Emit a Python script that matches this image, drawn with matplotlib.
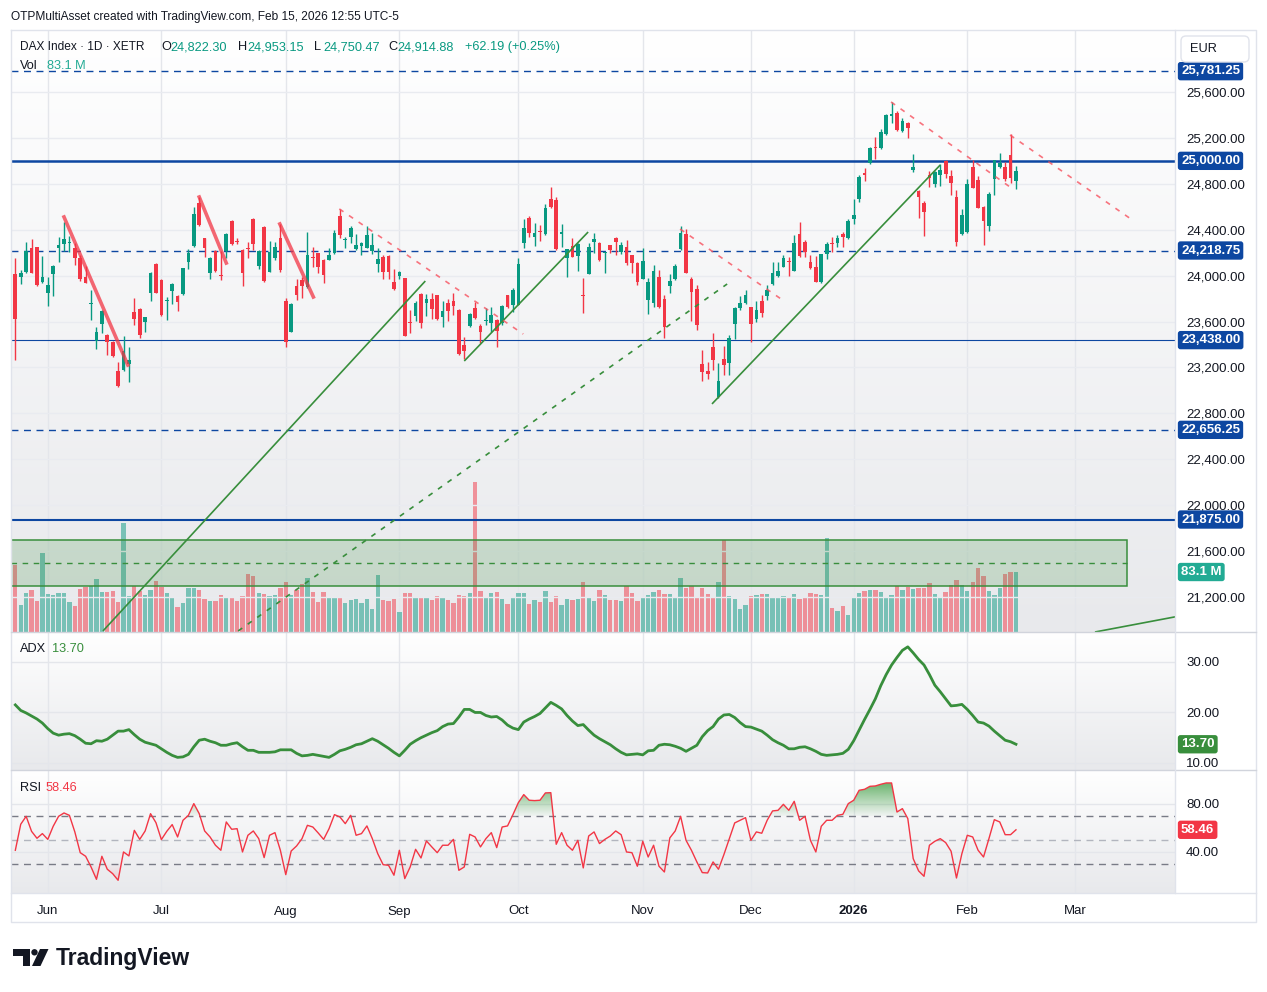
import numpy as np
import pandas as pd
import matplotlib
matplotlib.use("Agg")
import matplotlib.pyplot as plt
import matplotlib.transforms as mtransforms
from matplotlib.colors import LinearSegmentedColormap, to_rgba
from matplotlib.patches import Rectangle, Polygon, Circle, FancyBboxPatch
from matplotlib.path import Path
from matplotlib.ticker import FuncFormatter

plt.rcParams['font.family'] = ['Liberation Sans', 'DejaVu Sans']

W, H = 1267, 992

# XETR sessions (holidays removed), last bar = Feb 13 2026
holidays = ['2025-12-24', '2025-12-25', '2025-12-26', '2025-12-31', '2026-01-01']
sessions = pd.bdate_range('2025-05-23', '2026-03-31')
sessions = sessions[~sessions.isin(pd.to_datetime(holidays))]

opens = [24014, 23985, 24035, 24244, 24247, 23947, 23852, 24014, 24244, 24273,
         24287, 24238, 24151, 23985, 23753, 23431, 23576, 23483, 23425, 23169,
         23178, 23230, 23683, 23709, 23599, 23852, 24101, 23962, 23776, 23869,
         23823, 23837, 24122, 24258, 24630, 24325, 24026, 24215, 24005, 24215,
         24476, 24302, 24223, 24241, 24493, 24084, 24427, 24034, 24157, 24325,
         23779, 23512, 23910, 23962, 23898, 24156, 24194, 24136, 24136, 24194,
         24522, 24311, 24340, 24232, 24258, 24244, 24218, 24099, 24165, 24171,
         23948, 23997, 23977, 23593, 23651, 23840, 23759, 23797, 23831, 23643,
         23759, 23782, 23701, 23396, 23564, 23721, 23564, 23602, 23590, 23613,
         23584, 23831, 23744, 23744, 24281, 24499, 24339, 24386, 24363, 24667,
         24659, 24360, 24156, 24258, 24174, 23825, 24014, 24296, 24287, 24197,
         24267, 24331, 24209, 24252, 24180, 24113, 23971, 23788, 23759, 23991,
         23796, 23910, 23971, 24232, 24363, 23971, 23883, 23230, 23169, 23381,
         22940, 23274, 23242, 23576, 23721, 23759, 23724, 23622, 23779, 23825,
         23925, 23997, 24078, 24125, 24044, 24363, 24296, 24122, 24073, 23942,
         24186, 24285, 24288, 24360, 24331, 24491, 24668, 24894, 24979, 25121,
         25109, 25234, 25391, 25414, 25263, 25333, 24921, 24738, 24630, 24877,
         24799, 24877, 25002, 24868, 24688, 24363, 24378, 24944, 24833, 24601,
         24436, 24842, 24950, 24950, 25051, 24822.30]
highs = [24151, 24049, 24296, 24316, 24252, 24171, 23985, 24093, 24340, 24470,
         24345, 24281, 24180, 24084, 23875, 23555, 23701, 23490, 23430, 23245,
         23477, 23375, 23805, 23715, 23642, 24035, 24113, 23968, 23811, 23933,
         23828, 24068, 24229, 24601, 24688, 24330, 24165, 24220, 24215, 24368,
         24485, 24331, 24229, 24296, 24499, 24220, 24432, 24302, 24296, 24447,
         23802, 23764, 23971, 23991, 24383, 24252, 24197, 24142, 24238, 24398,
         24578, 24334, 24432, 24360, 24296, 24432, 24374, 24238, 24180, 24180,
         24055, 24043, 23983, 23701, 23782, 23852, 23840, 23846, 23835, 23782,
         23793, 23852, 23706, 23468, 23677, 23773, 23579, 23721, 23730, 23619,
         23740, 23835, 23889, 24151, 24490, 24519, 24456, 24441, 24624, 24769,
         24688, 24447, 24232, 24325, 24287, 23982, 24287, 24374, 24290, 24209,
         24270, 24334, 24296, 24310, 24183, 24116, 24238, 23977, 24093, 24049,
         23831, 24014, 24101, 24432, 24403, 23985, 23918, 23352, 23250, 23497,
         23242, 23387, 23483, 23724, 23823, 23875, 23730, 23782, 23831, 23918,
         24116, 24122, 24180, 24166, 24354, 24470, 24311, 24180, 24174, 24192,
         24296, 24340, 24354, 24383, 24494, 24665, 24877, 24935, 25118, 25205,
         25275, 25408, 25510, 25435, 25371, 25342, 25060, 24746, 24651, 24912,
         24912, 24970, 25008, 24921, 24746, 24581, 24842, 25008, 24868, 24605,
         24726, 25010, 25066, 24993, 25231, 24953.15]
lows = [23265, 23927, 24020, 24020, 23910, 23940, 23735, 23823, 24122, 24217,
        24209, 24093, 23956, 23933, 23614, 23358, 23503, 23309, 23295, 23030,
        23170, 23076, 23570, 23460, 23512, 23782, 23845, 23650, 23614, 23753,
        23695, 23832, 24058, 24247, 24436, 24165, 23968, 24035, 23962, 24157,
        24267, 24276, 23910, 24151, 24223, 24055, 23942, 24030, 24136, 24034,
        23375, 23505, 23788, 23802, 23895, 24078, 24026, 23939, 24132, 24188,
        24325, 24244, 24282, 24223, 24180, 24240, 24186, 24034, 23971, 23971,
        23875, 23968, 23470, 23503, 23608, 23541, 23651, 23619, 23613, 23555,
        23608, 23657, 23310, 23274, 23555, 23619, 23416, 23570, 23512, 23381,
        23570, 23715, 23686, 23740, 24244, 24339, 24258, 24305, 24354, 24592,
        24223, 24252, 23985, 24160, 24043, 23677, 24010, 24200, 24130, 24026,
        24194, 24180, 24188, 24093, 24026, 23918, 23968, 23666, 23730, 23720,
        23454, 23852, 23962, 24223, 24020, 23608, 23526, 23085, 23099, 23178,
        22935, 23134, 23134, 23445, 23700, 23755, 23425, 23599, 23642, 23788,
        23919, 23991, 24075, 23997, 24040, 24166, 24166, 24058, 23942, 23933,
        24145, 24209, 24247, 24253, 24319, 24447, 24639, 24825, 24973, 25016,
        25105, 25226, 25327, 25260, 25255, 25196, 24900, 24505, 24349, 24775,
        24775, 24784, 24848, 24703, 24261, 24354, 24375, 24762, 24588, 24267,
        24389, 24703, 24941, 24825, 24804, 24750.47]
closes = [23619, 24026, 24215, 24026, 23918, 23985, 23918, 24084, 24267, 24316,
          24296, 24151, 23968, 23939, 23764, 23506, 23695, 23425, 23303, 23039,
          23343, 23265, 23625, 23483, 23637, 24020, 23852, 23657, 23782, 23924,
          23773, 24064, 24194, 24537, 24441, 24244, 24157, 24040, 23999, 24363,
          24276, 24296, 24026, 24235, 24276, 24215, 23956, 24209, 24252, 24049,
          23419, 23753, 23831, 23910, 24180, 24151, 24072, 24006, 24180, 24374,
          24354, 24319, 24412, 24267, 24282, 24354, 24267, 24145, 24034, 24029,
          23884, 24034, 23477, 23587, 23759, 23584, 23797, 23707, 23619, 23692,
          23692, 23738, 23314, 23346, 23663, 23628, 23512, 23608, 23657, 23521,
          23736, 23730, 23875, 24101, 24412, 24368, 24374, 24377, 24586, 24601,
          24229, 24383, 24229, 24165, 24273, 23820, 24252, 24319, 24136, 24203,
          24223, 24296, 24267, 24113, 24107, 23947, 24130, 23947, 24043, 23724,
          23555, 23953, 24084, 24374, 24026, 23860, 23570, 23163, 23143, 23265,
          23082, 23221, 23454, 23715, 23764, 23831, 23576, 23700, 23677, 23875,
          24026, 24041, 24151, 24119, 24288, 24171, 24209, 24064, 23948, 24189,
          24273, 24279, 24325, 24340, 24479, 24528, 24863, 24877, 25115, 25115,
          25255, 25400, 25408, 25269, 25347, 25284, 24950, 24688, 24552, 24854,
          24900, 24921, 24886, 24810, 24296, 24528, 24796, 24767, 24592, 24476,
          24711, 25008, 24984, 24842, 24853, 24914.88]
volume_m = [92.8, 37.4, 54.0, 58.2, 42.9, 109.4, 52.6, 51.2, 54.0, 54.0,
            41.6, 36.0, 59.6, 62.3, 63.7, 73.4, 55.4, 55.4, 56.8, 41.6,
            151.0, 49.9, 63.7, 56.8, 51.2, 58.2, 70.6, 62.3, 54.0, 47.1,
            34.6, 40.2, 61.4, 61.4, 58.2, 45.7, 42.9, 42.9, 51.2, 48.5,
            48.5, 42.9, 49.9, 80.3, 77.6, 54.0, 52.6, 49.9, 51.2, 61.4,
            69.3, 51.2, 58.2, 66.0, 74.8, 55.4, 41.6, 55.4, 48.5, 48.5,
            47.1, 40.2, 44.3, 45.7, 40.2, 45.7, 31.9, 79.0, 44.3, 42.9,
            45.7, 27.7, 54.0, 54.0, 47.1, 47.1, 48.5, 44.3, 49.9, 48.5,
            44.3, 40.2, 51.2, 49.9, 54.0, 207.8, 56.8, 48.5, 54.0, 55.4,
            45.7, 38.8, 48.5, 54.0, 54.0, 38.8, 44.3, 41.6, 56.8, 41.6,
            49.9, 37.4, 45.7, 44.3, 45.7, 69.3, 47.1, 42.9, 58.2, 51.2,
            44.3, 44.3, 42.9, 63.7, 54.0, 42.9, 48.5, 51.2, 55.4, 58.2,
            52.6, 52.6, 47.1, 74.8, 60.9, 63.7, 47.1, 60.9, 52.6, 48.5,
            69.3, 127.4, 49.9, 45.7, 31.9, 37.4, 49.9, 51.2, 52.6, 52.6,
            47.1, 47.1, 49.9, 48.5, 52.6, 45.7, 47.1, 54.0, 52.6, 51.2,
            130.2, 33.2, 29.1, 36.0, 23.5, 48.5, 54.0, 56.8, 58.2, 58.2,
            55.4, 47.1, 51.2, 63.7, 58.2, 62.3, 59.6, 60.9, 60.9, 67.9,
            52.6, 47.1, 55.4, 65.0, 72.0, 65.0, 56.8, 69.3, 88.6, 77.6,
            56.8, 51.2, 60.9, 80.3, 83.0, 83.1]
adx = [21.5, 20.4, 19.9, 19.3, 18.7, 17.9, 16.8, 15.9, 15.5, 15.7,
       15.8, 15.4, 14.7, 13.9, 13.8, 14.4, 14.3, 14.7, 15.5, 16.3,
       16.3, 16.6, 15.6, 14.7, 14.1, 13.8, 13.5, 12.8, 12.1, 11.5,
       11.1, 11.2, 11.7, 13.2, 14.5, 14.7, 14.3, 14.0, 13.5, 13.5,
       13.8, 14.0, 13.2, 12.5, 12.5, 12.1, 12.1, 12.1, 12.2, 12.6,
       12.6, 12.6, 11.9, 11.4, 11.5, 11.7, 11.5, 11.3, 11.1, 11.7,
       12.4, 12.7, 13.1, 13.6, 13.8, 14.3, 14.8, 14.3, 13.6, 12.9,
       12.1, 11.4, 12.5, 13.7, 14.4, 15.0, 15.5, 16.0, 16.4, 17.2,
       17.7, 17.8, 19.1, 20.6, 20.6, 20.0, 20.0, 19.4, 19.1, 19.2,
       18.5, 17.5, 16.9, 16.6, 18.1, 18.7, 19.2, 19.8, 20.9, 22.0,
       21.4, 20.7, 19.4, 18.3, 17.4, 17.6, 16.5, 15.5, 14.8, 14.2,
       13.6, 12.8, 12.1, 11.6, 11.7, 11.8, 11.6, 12.4, 12.5, 13.5,
       13.7, 13.6, 13.3, 12.9, 12.3, 12.9, 13.5, 15.2, 16.4, 17.2,
       18.7, 19.5, 19.6, 19.0, 18.0, 17.2, 17.1, 16.7, 16.3, 15.5,
       14.6, 14.0, 13.5, 12.8, 12.8, 13.1, 13.2, 12.8, 12.3, 11.7,
       11.5, 11.6, 11.7, 11.9, 12.7, 14.4, 16.5, 18.6, 20.6, 22.7,
       25.3, 27.5, 29.4, 30.9, 32.3, 33.0, 31.8, 30.5, 29.4, 27.5,
       25.4, 24.1, 22.7, 21.3, 21.4, 21.6, 20.6, 19.4, 18.1, 17.9,
       17.3, 16.3, 15.4, 14.5, 14.2, 13.7]
rsi = [41.4, 63.1, 69.7, 57.2, 51.4, 55.3, 50.5, 61.4, 69.7, 72.5,
       70.5, 56.7, 39.4, 36.4, 27.5, 17.2, 36.4, 25.6, 21.9, 16.4,
       40.0, 36.7, 58.0, 50.5, 57.5, 71.9, 64.4, 50.3, 57.2, 62.8,
       52.5, 66.4, 70.5, 80.3, 71.9, 57.5, 52.5, 45.6, 41.4, 65.0,
       58.9, 59.4, 40.0, 53.9, 57.5, 51.1, 35.3, 53.9, 56.1, 41.4,
       21.1, 40.8, 45.0, 51.1, 62.2, 60.8, 55.8, 50.5, 59.4, 71.1,
       69.2, 63.6, 70.5, 53.9, 55.3, 61.7, 51.1, 38.6, 29.4, 28.9,
       20.6, 41.4, 17.8, 27.5, 42.2, 35.0, 49.2, 44.2, 39.4, 45.6,
       45.6, 50.5, 24.7, 27.5, 54.7, 52.5, 44.2, 51.1, 56.1, 43.6,
       60.8, 61.7, 71.1, 81.1, 87.8, 83.1, 82.8, 83.1, 89.2, 89.4,
       46.4, 56.1, 45.6, 41.4, 49.7, 26.7, 53.3, 56.7, 47.0, 50.5,
       53.3, 57.5, 54.4, 40.0, 39.4, 28.1, 48.9, 35.8, 45.6, 28.1,
       23.3, 51.7, 57.5, 69.7, 49.7, 41.4, 31.7, 22.8, 22.5, 31.7,
       25.6, 37.8, 51.1, 64.2, 66.4, 68.6, 49.7, 56.7, 55.6, 66.4,
       74.2, 74.7, 79.7, 74.7, 82.2, 66.4, 69.7, 49.7, 40.0, 61.4,
       66.4, 66.4, 70.5, 71.4, 80.3, 83.1, 91.4, 92.2, 94.7, 95.0,
       96.4, 97.5, 97.5, 73.3, 76.1, 67.8, 34.4, 24.2, 19.7, 45.6,
       48.9, 51.1, 47.8, 40.6, 18.3, 38.6, 53.9, 52.5, 41.4, 35.8,
       51.1, 66.9, 65.0, 54.4, 54.4, 58.46]

# horizontal levels drawn on the chart
levels = [25781.25, 25000.00, 24218.75, 23438.00, 22656.25, 21875.00]
level_ls = ['dash', 'solid', 'dash', 'solid', 'dash', 'solid']
level_lw = [1.0, 1.8, 1.0, 0.8, 1.0, 1.5]

# drawings: (bar0, price0, bar1, price1)
green_lines = [(16.2, 20904, 75.8, 23953), (83.0, 23256, 105.9, 24380),
               (128.8, 22882, 171.0, 24964), (199.6, 20895, 217.0, 21050)]
green_dashed = [(41.2, 20904, 131.6, 23927)]
red_lines = [(9.0, 24511, 20.8, 23221), (34.0, 24685, 39.0, 24110),
             (48.9, 24450, 55.1, 23814)]
red_dashed = [(59.9, 24581, 93.9, 23491), (122.9, 24406, 142.1, 23779),
              (161.9, 25513, 183.9, 24772), (183.9, 25225, 206.5, 24485)]
zone = (-0.8, 205.5, 21293, 21694)

UP, DOWN = '#089981', '#f23645'
NAVY = '#0d47a1'
TXT = '#131722'

o = np.array(opens); h = np.array(highs); l = np.array(lows); c = np.array(closes)
n = len(c)
x = np.arange(n)
up = c >= o
cols = np.where(up, UP, DOWN)

fig = plt.figure(figsize=(W / 100, H / 100), dpi=100)
fig.patch.set_facecolor('white')


def frect(x0, y0, x1, y1):
    return [x0 / W, 1 - y1 / H, (x1 - x0) / W, (y1 - y0) / H]


ax_v = fig.add_axes(frect(11, 30, 1175, 632))
ax = fig.add_axes(frect(11, 30, 1175, 632), sharex=ax_v)
ax_adx = fig.add_axes(frect(11, 632, 1175, 770), sharex=ax_v)
ax_rsi = fig.add_axes(frect(11, 770, 1175, 893), sharex=ax_v)
ax.patch.set_visible(False)

bg = LinearSegmentedColormap.from_list('bg', ['#ffffff', '#e8e9ec'])
for a in (ax_v, ax_adx, ax_rsi):
    a.imshow(np.linspace(0, 1, 256)[:, None], extent=[0, 1, 0, 1], transform=a.transAxes,
             cmap=bg, aspect='auto', zorder=-10, interpolation='bilinear')
    for s in a.spines.values():
        s.set_visible(False)
for s in ax.spines.values():
    s.set_visible(False)

# month ticks
tick_pos, tick_lab = [], []
for i in range(1, len(sessions)):
    if sessions[i].month != sessions[i - 1].month:
        tick_pos.append(i)
        tick_lab.append('2026' if sessions[i].month == 1 else sessions[i].strftime('%b'))

# volume
vcols = [to_rgba(UP if u else DOWN, 0.5) for u in up]
ax_v.bar(x, volume_m, width=0.8, color=vcols, linewidth=0, zorder=2)
ax_v.set_ylim(0, 834)
ax_v.set_yticks([])

# zone
ax.add_patch(Rectangle((zone[0], zone[2]), zone[1] - zone[0], zone[3] - zone[2],
                       facecolor=to_rgba('#388e3c', 0.2), edgecolor='#388e3c', lw=1.1, zorder=2))
ax.plot([zone[0], zone[1]], [(zone[2] + zone[3]) / 2] * 2, color='#388e3c', lw=1,
        ls=(0, (4, 4)), zorder=2)

# levels
for lv, ls, lw in zip(levels, level_ls, level_lw):
    ax.axhline(lv, color=NAVY, lw=lw, ls=(0, (5, 4)) if ls == 'dash' else '-', zorder=2.5)

# candles
ax.vlines(x, l, h, colors=cols, lw=1, zorder=3)
ax.bar(x, np.maximum(np.abs(c - o), 8), bottom=np.minimum(o, c), width=0.68,
       color=cols, linewidth=0, zorder=4)

# drawings
for x0, y0, x1, y1 in green_lines:
    ax.plot([x0, x1], [y0, y1], color='#388e3c', lw=1.2, zorder=5, solid_capstyle='butt')
for x0, y0, x1, y1 in green_dashed:
    ax.plot([x0, x1], [y0, y1], color='#388e3c', lw=1.2, ls=(0, (3, 4)), zorder=5)
for x0, y0, x1, y1 in red_lines:
    ax.plot([x0, x1], [y0, y1], color='#f23645', alpha=0.75, lw=2.6, zorder=5)
for x0, y0, x1, y1 in red_dashed:
    ax.plot([x0, x1], [y0, y1], color='#f7525f', alpha=0.8, lw=1.2, ls=(0, (3, 4)), zorder=5)

ax.set_ylim(20895, 26140)
ax.set_xlim(-0.8, 214.4)
ax.yaxis.tick_right()
ax.set_yticks(np.arange(21200, 25601, 400))
ax.yaxis.set_major_formatter(FuncFormatter(lambda v, p: f'{v:,.2f}'))
ax.tick_params(axis='y', length=0, pad=8, labelsize=9.5, labelcolor=TXT)
ax.tick_params(axis='x', bottom=False, labelbottom=False)
ax_v.tick_params(axis='x', bottom=False, labelbottom=False)
ax.grid(axis='y', color='#e9ebf0', lw=1)
ax_v.set_xticks(tick_pos)
ax_v.grid(axis='x', color='#e4e6eb', lw=1)

# ADX
ax_adx.plot(x, adx, color='#388e3c', lw=2, zorder=3)
ax_adx.set_ylim(8.6, 35.94)
ax_adx.yaxis.tick_right()
ax_adx.set_yticks([10, 20, 30])
ax_adx.yaxis.set_major_formatter(FuncFormatter(lambda v, p: f'{v:.2f}'))
ax_adx.tick_params(axis='y', length=0, pad=8, labelsize=9.5, labelcolor=TXT)
ax_adx.tick_params(axis='x', bottom=False, labelbottom=False)
ax_adx.grid(True, color='#e4e6eb', lw=1)

# RSI with gradient zone fills
r = np.array(rsi)


def gradient_fill(a, where, lo, hi, color, a_lo, a_hi):
    coll = a.fill_between(x, r, lo if a_lo < a_hi else hi, where=where, interpolate=True,
                          facecolor='none', lw=0)
    paths = coll.get_paths()
    if not paths:
        return
    rgba = np.zeros((256, 1, 4))
    rgba[..., :3] = to_rgba(color)[:3]
    rgba[:, 0, 3] = np.linspace(a_lo, a_hi, 256)
    im = a.imshow(rgba, extent=[x[0], x[-1], lo, hi], origin='lower', aspect='auto',
                  zorder=2.2, interpolation='bilinear')
    im.set_clip_path(Path.make_compound_path(*paths), transform=a.transData)


gradient_fill(ax_rsi, r >= 70, 70, 100, '#43a047', 0.03, 0.85)
gradient_fill(ax_rsi, r <= 30, 0, 30, '#f23645', 0.35, 0.0)
ax_rsi.plot(x, r, color='#f23645', lw=1, zorder=3)
for lv, colr in ((70, '#787b86'), (50, '#b2b5be'), (30, '#787b86')):
    ax_rsi.axhline(lv, color=colr, lw=1, ls=(0, (5, 4)), zorder=2)
ax_rsi.set_ylim(5.8, 108.3)
ax_rsi.yaxis.tick_right()
ax_rsi.set_yticks([40, 80])
ax_rsi.yaxis.set_major_formatter(FuncFormatter(lambda v, p: f'{v:.2f}'))
ax_rsi.tick_params(axis='y', length=0, pad=8, labelsize=9.5, labelcolor=TXT)
ax_rsi.set_xticks(tick_pos)
ax_rsi.set_xticklabels(tick_lab)
ax_rsi.tick_params(axis='x', length=0, pad=9, labelsize=9.5, labelcolor=TXT)
for t in ax_rsi.get_xticklabels():
    if t.get_text() == '2026':
        t.set_fontweight('bold')
ax_rsi.grid(True, color='#e4e6eb', lw=1)
ax_rsi.set_xlim(-0.8, 214.4)
ax_rsi.set_ylim(5.8, 108.3)


def side_label(a, val, txt, fc):
    tr = mtransforms.blended_transform_factory(a.transAxes, a.transData)
    a.text(1.0 + 6 / 1164, val, txt, transform=tr, ha='left', va='center', fontsize=9.5,
           color='white', fontweight='bold', clip_on=False, zorder=10,
           bbox=dict(boxstyle='round,pad=0.24,rounding_size=0.2', fc=fc, ec='none'))


for lv in levels:
    side_label(ax, lv, f'{lv:,.2f}', NAVY)
side_label(ax_v, volume_m[-1], f'{volume_m[-1]:.1f} M', '#22ab94')
side_label(ax_adx, adx[-1], f'{adx[-1]:.2f}', '#388e3c')
side_label(ax_rsi, rsi[-1], f'{rsi[-1]:.2f}', '#f23645')

# overlay for chrome
ov = fig.add_axes([0, 0, 1, 1])
ov.set_xlim(0, W)
ov.set_ylim(H, 0)
ov.axis('off')
ov.patch.set_visible(False)

ov.plot([11, 1256, 1256, 11, 11], [30, 30, 922, 922, 30], color='#e0e3eb', lw=1)
for yy in (632, 770):
    ov.plot([11, 1256], [yy, yy], color='#d1d4dc', lw=1)
ov.plot([11, 1256], [893, 893], color='#e0e3eb', lw=1)
ov.plot([1175, 1175], [30, 893], color='#e0e3eb', lw=1)

ov.text(11, 17, 'OTPMultiAsset created with TradingView.com, Feb 15, 2026 12:55 UTC-5',
        fontsize=8.6, color=TXT, va='center')

leg_y = 47
ov.text(20, leg_y, 'DAX Index · 1D · XETR', fontsize=8.6, color=TXT, va='center')
pieces = [('O', opens[-1]), ('H', highs[-1]), ('L', lows[-1]), ('C', closes[-1])]
px = [161, 238, 314, 388]
for (k, v), xx in zip(pieces, px):
    ov.text(xx, leg_y, k, fontsize=9.2, color=TXT, va='center')
    ov.text(xx + 9, leg_y, f'{v:,.2f}', fontsize=9.2, color=UP, va='center')
chg = closes[-1] - 24852.69
ov.text(465, leg_y, f'+{chg:.2f} (+{chg / 24852.69 * 100:.2f}%)', fontsize=9.2, color=UP, va='center')
ov.text(20, 66, 'Vol', fontsize=9.2, color=TXT, va='center')
ov.text(47, 66, f'{volume_m[-1]:.1f} M', fontsize=9.2, color='#22ab94', va='center')
ov.text(20, 649, 'ADX', fontsize=9.2, color=TXT, va='center')
ov.text(52, 649, f'{adx[-1]:.2f}', fontsize=9.2, color='#388e3c', va='center')
ov.text(20, 788, 'RSI', fontsize=9.2, color=TXT, va='center')
ov.text(46, 788, f'{rsi[-1]:.2f}', fontsize=9.2, color='#f23645', va='center')

ov.add_patch(FancyBboxPatch((1181, 36), 68, 26, boxstyle='round,pad=0,rounding_size=5',
                            fc='white', ec='#e0e3eb', lw=1))
ov.text(1190, 49, 'EUR', fontsize=9.2, color=TXT, va='center')

# TradingView logo
ov.add_patch(Polygon([(13, 949), (30, 949), (30, 966), (23, 966), (23, 955.5), (13, 955.5)],
                     closed=True, fc='#131722', ec='none'))
ov.add_patch(Circle((34.5, 952.3), 3.2, fc='#131722', ec='none'))
ov.add_patch(Polygon([(40, 949), (48.5, 949), (40.5, 966), (32, 966)], closed=True,
                     fc='#131722', ec='none'))
ov.text(56, 958, 'TradingView', fontsize=16.5, fontweight='bold', color='#131722', va='center')

fig.savefig('out.png', dpi=100, facecolor='white')
